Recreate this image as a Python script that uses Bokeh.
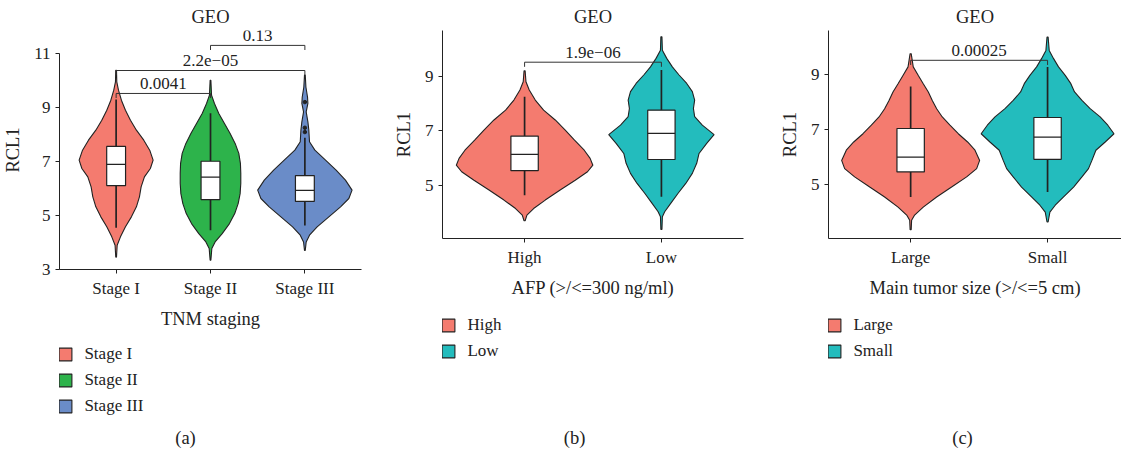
import numpy as np
from bokeh.plotting import figure
from bokeh.models import (FixedTicker, Legend, LegendItem, Label, Range1d)
from bokeh.layouts import row, column
from bokeh.embed import file_html
from bokeh.resources import INLINE

FONT = "Liberation Serif"
INK = "#222222"
FS = "17px"
FS_BIG = "18.5px"

# ---------------- panel (a): TNM staging ----------------
stage_names = ["Stage I", "Stage II", "Stage III"]
stage_colors = ["#F47B6F", "#2DB34B", "#6A8CC8"]
stage1_y = [10.38, 9.95, 9.64, 9.27, 8.90, 8.53, 8.16, 7.79, 7.42, 7.05, 6.74, 6.43, 6.06,
            5.69, 5.32, 4.95, 4.58, 4.21, 3.90, 3.46]
stage1_w = [0.004, 0.007, 0.025, 0.056, 0.099, 0.152, 0.215, 0.293, 0.356, 0.392, 0.363, 0.300,
            0.265, 0.247, 0.215, 0.162, 0.099, 0.046, 0.011, 0.004]
stage2_y = [10.01, 9.46, 9.15, 8.78, 8.41, 8.04, 7.67, 7.30, 6.93, 6.56, 6.19, 5.81, 5.44,
            5.07, 4.70, 4.33, 4.02, 3.78, 3.34]
stage2_w = [0.004, 0.011, 0.042, 0.088, 0.148, 0.208, 0.261, 0.300, 0.317, 0.321, 0.321, 0.314,
            0.293, 0.257, 0.201, 0.124, 0.049, 0.014, 0.004]
stage3_y = [10.20, 9.76, 9.39, 9.15, 8.84, 8.47, 8.16, 7.73, 7.42, 7.05, 6.68, 6.31, 5.94,
            5.63, 5.32, 4.95, 4.58, 4.27, 4.02, 3.71]
stage3_w = [0.004, 0.011, 0.028, 0.032, 0.014, 0.032, 0.042, 0.049, 0.106, 0.219, 0.331, 0.430,
            0.500, 0.466, 0.378, 0.254, 0.130, 0.049, 0.014, 0.004]
stage_q1 = [6.11, 5.59, 5.52]
stage_med = [6.89, 6.42, 5.93]
stage_q3 = [7.56, 7.01, 6.48]
stage_lo = [4.55, 4.45, 4.63]
stage_hi = [9.30, 8.79, 7.88]
stage_out_x = [3, 3, 3]
stage_out_y = [9.20, 8.25, 8.09]
stage_pairs = [(1, 2), (1, 3), (2, 3)]
stage_bracket_y = [9.52, 10.37, 11.30]
stage_p = ["0.0041", "2.2e\u221205", "0.13"]

# ---------------- panel (b): AFP ----------------
afp_names = ["High", "Low"]
pair_colors = ["#F47B6F", "#23BCBD"]
high_y = [9.19, 8.79, 8.49, 8.12, 7.75, 7.39, 7.02, 6.65, 6.28, 5.98, 5.73, 5.49, 5.18, 4.82,
          4.45, 4.14, 3.90, 3.69]
high_w = [0.004, 0.010, 0.034, 0.078, 0.139, 0.224, 0.297, 0.365, 0.436, 0.479, 0.499, 0.460,
          0.370, 0.260, 0.151, 0.066, 0.017, 0.004]
low_y = [10.44, 9.95, 9.65, 9.34, 9.04, 8.73, 8.43, 8.12, 7.81, 7.51, 7.20, 6.85, 6.53, 6.16,
         5.80, 5.43, 5.06, 4.70, 4.33, 4.02, 3.84, 3.37]
low_w = [0.004, 0.007, 0.039, 0.080, 0.129, 0.185, 0.226, 0.243, 0.234, 0.243, 0.299, 0.385,
         0.331, 0.275, 0.258, 0.226, 0.178, 0.122, 0.068, 0.024, 0.007, 0.004]
afp_q1 = [5.53, 5.94]
afp_med = [6.13, 6.90]
afp_q3 = [6.80, 7.75]
afp_lo = [4.63, 4.57]
afp_hi = [8.24, 9.22]
afp_pairs = [(1, 2)]
afp_bracket_y = [9.51]
afp_p = ["1.9e\u221206"]

# ---------------- panel (c): tumor size ----------------
size_names = ["Large", "Small"]
large_y = [9.75, 9.27, 8.96, 8.66, 8.36, 8.05, 7.75, 7.45, 7.15, 6.84, 6.54, 6.24, 5.87, 5.57,
           5.27, 4.90, 4.54, 4.17, 3.87, 3.69, 3.35]
large_w = [0.004, 0.019, 0.056, 0.092, 0.129, 0.158, 0.190, 0.231, 0.287, 0.348, 0.416, 0.470,
           0.504, 0.482, 0.409, 0.299, 0.190, 0.092, 0.027, 0.007, 0.004]
small_y = [10.36, 9.87, 9.57, 9.27, 8.96, 8.66, 8.36, 8.05, 7.75, 7.45, 7.15, 6.84, 6.54, 6.24,
           5.87, 5.57, 5.27, 4.90, 4.54, 4.24, 3.99, 3.63]
small_w = [0.004, 0.012, 0.044, 0.080, 0.129, 0.170, 0.197, 0.251, 0.311, 0.384, 0.440, 0.485,
           0.421, 0.353, 0.324, 0.299, 0.251, 0.190, 0.117, 0.056, 0.017, 0.004]
size_q1 = [5.45, 5.91]
size_med = [5.99, 6.72]
size_q3 = [7.03, 7.43]
size_lo = [4.54, 4.72]
size_hi = [8.56, 9.27]
size_pairs = [(1, 2)]
size_bracket_y = [9.51]
size_p = ["0.00025"]

PAGE_H = 447  # usable layout height


def violin_outline(center, ys, ws):
    ys = np.asarray(ys, dtype=float)
    ws = np.asarray(ws, dtype=float)
    xs = np.concatenate([center - ws, (center + ws)[::-1]])
    yy = np.concatenate([ys, ys[::-1]])
    return xs, yy


def style_axis(ax):
    ax.axis_line_color = INK
    ax.axis_line_width = 1
    ax.major_tick_line_color = INK
    ax.major_tick_out = 4
    ax.major_tick_in = 0
    ax.minor_tick_line_color = None
    ax.major_label_text_font = FONT
    ax.major_label_text_font_size = FS
    ax.major_label_text_color = INK
    ax.axis_label_text_font = FONT
    ax.axis_label_text_font_size = FS_BIG
    ax.axis_label_text_font_style = "normal"
    ax.axis_label_text_color = INK


def panel(names, colors, vys, vws, q1, med, q3, lo, hi, pairs, b_y, b_txt, xlabel, caption,
          y0, y1, ybounds, yticks, x1, fw, fh, bl, br, bb, leg_top, cap_x, cap_y,
          out_x=None, out_y=None):
    p = figure(frame_width=fw, frame_height=fh, x_range=Range1d(0.4, x1),
               y_range=Range1d(y0, y1), output_backend="svg", toolbar_location=None,
               min_border_left=bl, min_border_right=br, min_border_top=0,
               min_border_bottom=bb)
    p.outline_line_color = None
    p.xgrid.grid_line_color = None
    p.ygrid.grid_line_color = None
    p.background_fill_color = "white"

    p.title.text = "GEO"
    p.title.align = "center"
    p.title.text_font = FONT
    p.title.text_font_size = FS_BIG
    p.title.text_font_style = "normal"
    p.title.text_color = INK
    p.title.standoff = 8

    xs = list(range(1, len(names) + 1))
    outlines = [violin_outline(xs[i], ys, ws) for i, (ys, ws) in enumerate(zip(vys, vws))]
    for (vx, vy), c in zip(outlines, colors):
        p.patch(vx, vy, fill_color=c, line_color=INK, line_width=1.1)

    # box plots
    p.segment(x0=xs, y0=lo, x1=xs, y1=q1, line_color=INK, line_width=1.7)
    p.segment(x0=xs, y0=q3, x1=xs, y1=hi, line_color=INK, line_width=1.7)
    p.vbar(x=xs, width=0.2, bottom=q1, top=q3, fill_color="white", line_color=INK,
           line_width=1.2)
    p.segment(x0=[x - 0.1 for x in xs], y0=med, x1=[x + 0.1 for x in xs], y1=med,
              line_color=INK, line_width=1.2)
    if out_x is not None:
        p.scatter(out_x, out_y, size=3.5, color=INK)

    # significance brackets
    tip = 0.17
    sx0, sy0, sx1, sy1 = [], [], [], []
    for (a, b), h in zip(pairs, b_y):
        sx0 += [a, a, b]
        sy0 += [h, h, h]
        sx1 += [b, a, b]
        sy1 += [h, h - tip, h - tip]
    p.segment(x0=sx0, y0=sy0, x1=sx1, y1=sy1, line_color="#333333", line_width=1)
    for (a, b), h, t in zip(pairs, b_y, b_txt):
        p.add_layout(Label(x=(a + b) / 2, y=h + 0.16, text=t, text_align="center",
                           text_baseline="bottom", text_font=FONT, text_font_size=FS,
                           text_color=INK))

    p.xaxis.ticker = FixedTicker(ticks=xs)
    p.xaxis.major_label_overrides = {x: n for x, n in zip(xs, names)}
    p.xaxis.axis_label = xlabel
    p.xaxis.major_label_standoff = 5
    p.xaxis.axis_label_standoff = 8
    p.yaxis.ticker = FixedTicker(ticks=yticks)
    p.yaxis.axis_label = "RCL1"
    p.yaxis.major_label_standoff = 5
    p.yaxis.axis_label_standoff = 8
    if ybounds is not None:
        p.yaxis.bounds = ybounds
    style_axis(p.xaxis[0])
    style_axis(p.yaxis[0])

    # legend + caption strip underneath (its frame is aligned with the panel's frame)
    width = bl + fw + br
    top_h = 22 + fh + bb
    lh = PAGE_H - top_h
    q = figure(width=width, height=lh, x_range=Range1d(0, 1), y_range=Range1d(0, 1),
               x_axis_type=None, y_axis_type=None, output_backend="svg",
               toolbar_location=None, min_border_left=bl, min_border_right=br,
               min_border_top=0, min_border_bottom=0)
    q.outline_line_color = None
    q.xgrid.grid_line_color = None
    q.ygrid.grid_line_color = None
    # legend keys: the same violin shapes (they fall outside this strip's view)
    keys = [q.patch(vx, vy, fill_color=c, line_color=INK, line_width=1.1)
            for (vx, vy), c in zip(outlines, colors)]
    n = len(names)
    leg_h = n * 20 + (n - 1) * 6
    items = [LegendItem(label=nm, renderers=[r]) for nm, r in zip(names, keys)]
    leg = Legend(items=items, location=(-1.6, lh - leg_top - leg_h), orientation="vertical",
                 margin=0, padding=0, border_line_color=None, background_fill_alpha=0,
                 glyph_width=16, glyph_height=16, label_height=20, spacing=6,
                 label_standoff=11, label_text_font=FONT, label_text_font_size=FS,
                 label_text_color=INK)
    q.add_layout(leg, "center")
    q.add_layout(Label(x=cap_x, y=lh - cap_y, x_units="screen", y_units="screen",
                       text=caption, text_align="center", text_baseline="middle",
                       text_font=FONT, text_font_size=FS_BIG, text_color=INK))
    return column(p, q, spacing=0)


# positions below are layout pixels (picture minus the 8px page margin)
pa = panel(stage_names, stage_colors, [stage1_y, stage2_y, stage3_y],
           [stage1_w, stage2_w, stage3_w], stage_q1, stage_med, stage_q3, stage_lo, stage_hi,
           stage_pairs, stage_bracket_y, stage_p, "TNM staging", "(a)",
           3, 3 + 239 / 27.0, (3, 11), [3, 5, 7, 9, 11], 3.6,
           302, 239, 52, 18, 69, 6, 126, 99,
           out_x=stage_out_x, out_y=stage_out_y)
pb = panel(afp_names, pair_colors, [high_y, low_y], [high_w, low_w], afp_q1, afp_med, afp_q3,
           afp_lo, afp_hi, afp_pairs, afp_bracket_y, afp_p, "AFP (>/<=300 ng/ml)", "(b)",
           3.04, 3.04 + 208 / 27.25, None, [5, 7, 9], 2.6,
           301, 208, 63, 26, 68, 9, 132, 131)
pc = panel(size_names, pair_colors, [large_y, small_y], [large_w, small_w], size_q1, size_med,
           size_q3, size_lo, size_hi, size_pairs, size_bracket_y, size_p,
           "Main tumor size (>/<=5 cm)", "(c)",
           3.03, 3.03 + 208 / 27.5, None, [5, 7, 9], 2.54,
           293, 208, 59, 0, 68, 9, 134, 131)

layout = row(pa, pb, pc, spacing=0)
open("out.html", "w").write(file_html(layout, INLINE))
